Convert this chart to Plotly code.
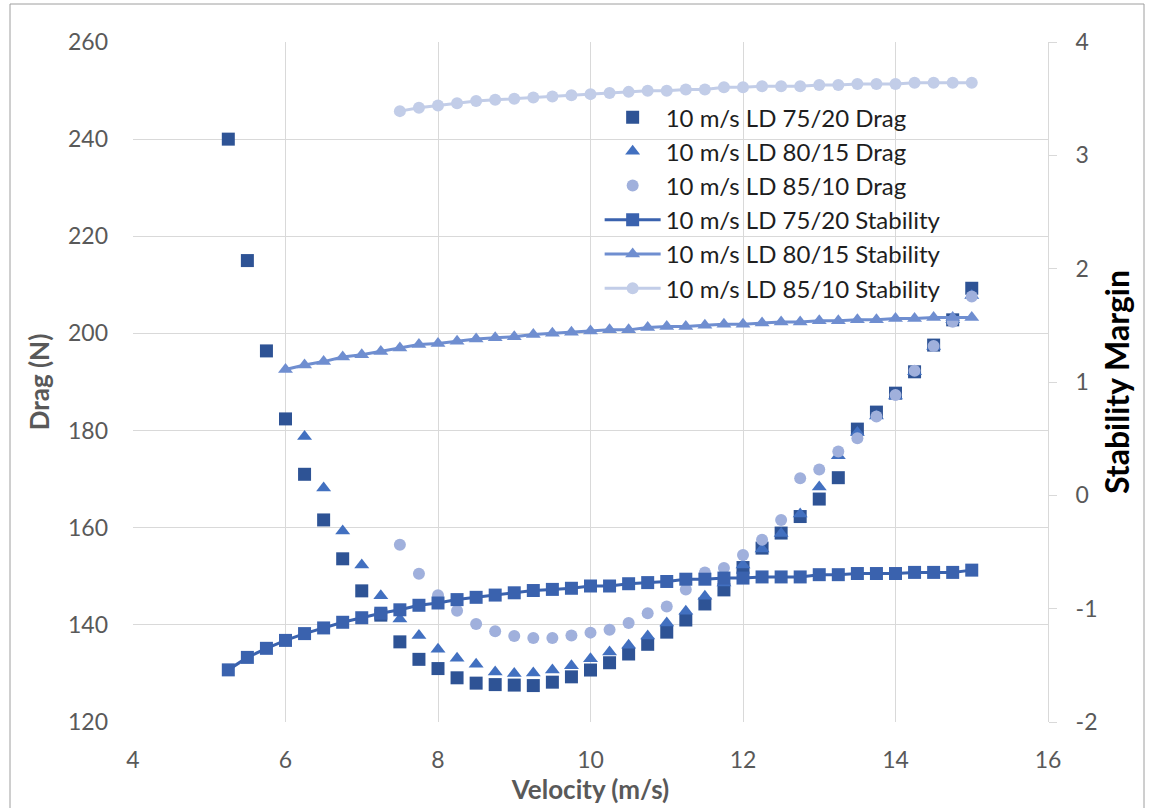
import plotly.graph_objects as go

# Velocity grids (m/s)
vel_7520 = [5.25, 5.5, 5.75, 6.0, 6.25, 6.5, 6.75, 7.0, 7.25, 7.5, 7.75, 8.0, 8.25, 8.5,
            8.75, 9.0, 9.25, 9.5, 9.75, 10.0, 10.25, 10.5, 10.75, 11.0, 11.25, 11.5, 11.75,
            12.0, 12.25, 12.5, 12.75, 13.0, 13.25, 13.5, 13.75, 14.0, 14.25, 14.5, 14.75, 15.0]
vel_8015_drag = [6.25, 6.5, 6.75, 7.0, 7.25, 7.5, 7.75, 8.0, 8.25, 8.5, 8.75, 9.0, 9.25,
                 9.5, 9.75, 10.0, 10.25, 10.5, 10.75, 11.0, 11.25, 11.5, 11.75, 12.0, 12.25,
                 12.5, 12.75, 13.0, 13.25, 13.5, 13.75, 14.0, 14.25, 14.5, 14.75, 15.0]
vel_8015_stab = [6.0, 6.25, 6.5, 6.75, 7.0, 7.25, 7.5, 7.75, 8.0, 8.25, 8.5, 8.75, 9.0, 9.25,
                 9.5, 9.75, 10.0, 10.25, 10.5, 10.75, 11.0, 11.25, 11.5, 11.75, 12.0, 12.25,
                 12.5, 12.75, 13.0, 13.25, 13.5, 13.75, 14.0, 14.25, 14.5, 14.75, 15.0]
vel_8510 = [7.5, 7.75, 8.0, 8.25, 8.5, 8.75, 9.0, 9.25, 9.5, 9.75, 10.0, 10.25, 10.5, 10.75,
            11.0, 11.25, 11.5, 11.75, 12.0, 12.25, 12.5, 12.75, 13.0, 13.25, 13.5, 13.75,
            14.0, 14.25, 14.5, 14.75, 15.0]

# Drag (N)
drag_7520 = [240.0, 215.0, 196.4, 182.4, 171.0, 161.6, 153.6, 147.0, 142.0, 136.5, 132.9,
             131.0, 129.1, 128.0, 127.7, 127.6, 127.5, 128.2, 129.3, 130.7, 132.2, 134.0,
             136.0, 138.5, 141.0, 144.3, 147.2, 151.8, 155.8, 158.9, 162.3, 165.9, 170.3,
             180.3, 183.8, 187.7, 192.1, 197.6, 202.8, 209.3]
drag_8015 = [178.8, 168.2, 159.3, 152.3, 146.0, 141.2, 137.8, 135.0, 133.1, 131.9, 130.3,
             130.0, 130.1, 130.7, 131.6, 133.0, 134.4, 135.8, 137.7, 140.4, 142.8, 145.9,
             148.6, 152.3, 155.6, 158.8, 162.8, 168.4, 174.8, 179.6, 183.0, 187.1, 192.1,
             197.3, 202.8, 207.8]
drag_8510 = [156.5, 150.5, 146.1, 142.9, 140.2, 138.7, 137.7, 137.3, 137.3, 137.8, 138.4,
             139.0, 140.4, 142.4, 143.8, 147.3, 150.8, 151.7, 154.4, 157.5, 161.6, 170.2,
             172.0, 175.7, 178.4, 182.9, 187.3, 192.3, 197.4, 202.4, 207.6]

# Stability margin
stab_7520 = [-1.54, -1.43, -1.35, -1.28, -1.22, -1.17, -1.12, -1.08, -1.04, -1.01, -0.97,
             -0.95, -0.92, -0.90, -0.88, -0.86, -0.84, -0.83, -0.82, -0.80, -0.80, -0.78,
             -0.77, -0.76, -0.74, -0.74, -0.73, -0.73, -0.72, -0.72, -0.72, -0.70, -0.70,
             -0.69, -0.69, -0.69, -0.68, -0.68, -0.68, -0.66]
stab_8015 = [1.11, 1.15, 1.18, 1.22, 1.24, 1.27, 1.30, 1.33, 1.34, 1.36, 1.38, 1.39, 1.40,
             1.42, 1.43, 1.44, 1.45, 1.46, 1.46, 1.48, 1.49, 1.49, 1.50, 1.51, 1.51, 1.52,
             1.53, 1.53, 1.54, 1.54, 1.55, 1.55, 1.56, 1.56, 1.57, 1.57, 1.57]
stab_8510 = [3.39, 3.42, 3.44, 3.46, 3.48, 3.49, 3.50, 3.51, 3.52, 3.53, 3.54, 3.55, 3.56,
             3.57, 3.57, 3.58, 3.58, 3.60, 3.60, 3.61, 3.61, 3.61, 3.62, 3.62, 3.63, 3.63,
             3.63, 3.64, 3.64, 3.64, 3.64]

# Axis tick labels
stab_ticks = [-2, -1, 0, 1, 2, 3, 4]
stab_ticktext = ["-2", "-1", "0", "1", "2", "3", "4"]

names = ["10 m/s LD 75/20 Drag", "10 m/s LD 80/15 Drag", "10 m/s LD 85/10 Drag",
         "10 m/s LD 75/20 Stability", "10 m/s LD 80/15 Stability", "10 m/s LD 85/10 Stability"]

C_DRAG = ["#2E5395", "#4270C0", "#A0B0DC"]
C_STAB = ["#3A62AE", "#6F8ED0", "#C2CDE8"]

FONT = "Lato"
GRAY = "#595959"
GRID = "#D9D9D9"

fig = go.Figure()

# Drag series (markers only, primary axis)
fig.add_trace(go.Scatter(x=vel_7520, y=drag_7520, mode="markers", name=names[0],
                         marker=dict(symbol="square", size=13, color=C_DRAG[0])))
fig.add_trace(go.Scatter(x=vel_8015_drag, y=drag_8015, mode="markers", name=names[1],
                         marker=dict(symbol="triangle-up", size=13, color=C_DRAG[1])))
fig.add_trace(go.Scatter(x=vel_8510, y=drag_8510, mode="markers", name=names[2],
                         marker=dict(symbol="circle", size=12, color=C_DRAG[2])))

# Stability series (lines with markers, secondary axis)
fig.add_trace(go.Scatter(x=vel_7520, y=stab_7520, mode="lines+markers", name=names[3],
                         yaxis="y2", line=dict(color=C_STAB[0], width=3),
                         marker=dict(symbol="square", size=13, color=C_STAB[0])))
fig.add_trace(go.Scatter(x=vel_8015_stab, y=stab_8015, mode="lines+markers", name=names[4],
                         yaxis="y2", line=dict(color=C_STAB[1], width=3),
                         marker=dict(symbol="triangle-up", size=13, color=C_STAB[1])))
fig.add_trace(go.Scatter(x=vel_8510, y=stab_8510, mode="lines+markers", name=names[5],
                         yaxis="y2", line=dict(color=C_STAB[2], width=3),
                         marker=dict(symbol="circle", size=12, color=C_STAB[2])))

fig.update_layout(
    width=1149, height=808,
    margin=dict(l=133, r=101, t=42, b=86),
    paper_bgcolor="white", plot_bgcolor="white",
    font=dict(family=FONT, size=23, color=GRAY),
    xaxis=dict(range=[4, 16], dtick=2, tick0=4, showgrid=True, gridcolor=GRID, gridwidth=1,
               zeroline=False, showline=False, ticks="", ticklabelstandoff=22,
               tickfont=dict(size=23, color=GRAY),
               title=dict(text="<b>Velocity (m/s)</b>", font=dict(size=26, color=GRAY),
                          standoff=0)),
    yaxis=dict(range=[120, 260], dtick=20, showgrid=True, gridcolor=GRID, gridwidth=1,
               zeroline=False, showline=False, ticks="", ticklabelstandoff=24,
               tickfont=dict(size=23, color=GRAY),
               title=dict(text="<b>Drag (N)</b>", font=dict(size=26, color=GRAY),
                          standoff=10)),
    yaxis2=dict(range=[-2, 4], tickvals=stab_ticks, ticktext=stab_ticktext,
                overlaying="y", side="right", showgrid=False,
                zeroline=False, showline=True, linecolor=GRID, linewidth=1,
                ticks="outside", ticklen=8, tickcolor=GRID, ticklabelstandoff=14,
                tickfont=dict(size=23, color=GRAY),
                title=dict(text="<b>Stability Margin</b>", font=dict(size=32, color="#000000"),
                           standoff=10)),
    legend=dict(x=0.51, y=0.922, xanchor="left", yanchor="top",
                bgcolor="rgba(0,0,0,0)", borderwidth=0, itemwidth=56,
                font=dict(family=FONT, size=24, color="#1E1E1E"),
                traceorder="normal"),
    shapes=[dict(type="rect", xref="paper", yref="paper",
                 x0=(10 - 133) / 915, x1=(1144 - 133) / 915,
                 y0=(722 - 815) / 680, y1=(722 - 4) / 680,
                 line=dict(color="#9E9E9E", width=1), fillcolor="rgba(0,0,0,0)",
                 layer="below")],
)

fig.write_html("out.html")
